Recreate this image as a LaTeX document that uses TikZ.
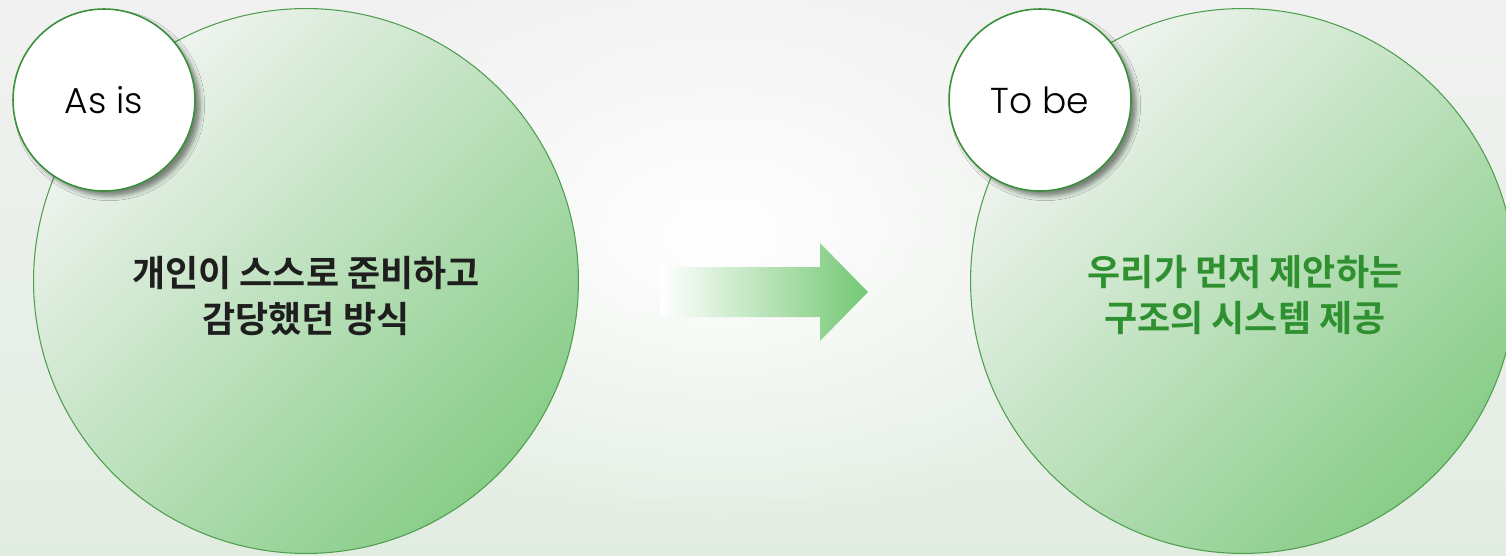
\documentclass[tikz,border=0pt]{standalone}
\usepackage{fontspec}
\newfontfamily\krfont{Noto Sans CJK KR Bold}
\newfontfamily\tagfont{Poppins Light}
\usetikzlibrary{fadings,shadows.blur}

\definecolor{bggray}{HTML}{F1F1F1}
\definecolor{bggreen}{HTML}{E2EDE2}
\definecolor{softwhite}{HTML}{F1F4F1}
\definecolor{deepgreen}{HTML}{88CD88}
\definecolor{circleline}{HTML}{4E9E4E}
\definecolor{tagline}{HTML}{3A8F3A}
\definecolor{arrowgreen}{HTML}{74C874}
\definecolor{textgreen}{HTML}{2F9030}
\definecolor{textdark}{HTML}{1E1E1E}

\tikzfading[name=glowfade, inner color=transparent!0, outer color=transparent!100]

\begin{document}
\begin{tikzpicture}[x=0.02cm, y=0.02cm,
    bigcircle/.style={circle, draw=circleline, line width=0.6pt, minimum size=10.9cm, inner sep=0pt,
        top color=softwhite, bottom color=deepgreen, shading angle=45},
    tagcircle/.style={circle, draw=tagline, line width=0.9pt, fill=white, minimum size=3.64cm, inner sep=0pt,
        blur shadow={shadow xshift=3pt, shadow yshift=-3pt, shadow blur radius=2.5pt, shadow opacity=45},
        font=\tagfont\fontsize{20.5}{24}\selectfont},
    bodytext/.style={align=center, font=\krfont\fontsize{20.5}{26.7}\selectfont}]

    % Background
    \useasboundingbox (0,0) rectangle (1506,555);
    \shade[top color=bggray, bottom color=bggreen] (0,0) rectangle (1506,555);
    \fill[white, path fading=glowfade] (720,320) ellipse (480 and 300);

    % Node definitions
    \node (oldway) at (306,274) [bigcircle] {};
    \node (newway) at (1243,274) [bigcircle] {};

    \node (asis) at (104,455) [tagcircle] {As is};
    \node (tobe) at (1040,455) [tagcircle] {To be};

    \node (oldtext) at (306,259) [bodytext, text=textdark] {개인이 스스로 준비하고\\감당했던 방식};
    \node (newtext) at (1245,260) [bodytext, text=textgreen] {우리가 먼저 제안하는\\구조의 시스템 제공};

    % Arrow from the old way to the new way
    \shade[left color=white, right color=arrowgreen]
        (660,288) -- (820,288) -- (820,312) -- (868,263) -- (820,214) -- (820,238) -- (660,238) -- cycle;
\end{tikzpicture}
\end{document}
